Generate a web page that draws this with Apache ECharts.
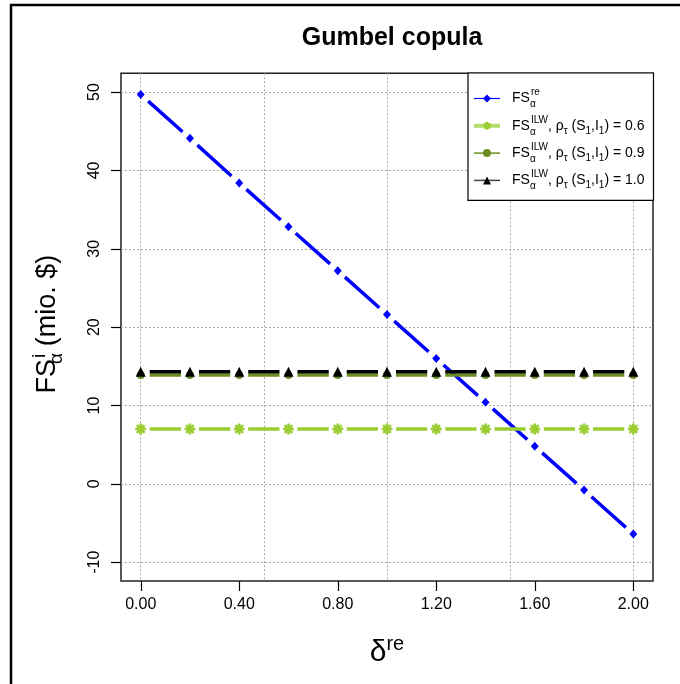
<!DOCTYPE html>
<html><head><meta charset="utf-8">
<script src="https://cdn.jsdelivr.net/npm/echarts@6/dist/echarts.min.js"></script>
<style>html,body{margin:0;padding:0;background:#fff}#c{width:680px;height:684px}</style>
</head><body><div id="c"></div>
<script>
// ---- data ----
const deltaRe = [0, 0.2, 0.4, 0.6, 0.8, 1.0, 1.2, 1.4, 1.6, 1.8, 2.0];
const fsRe    = [49.7, 44.1, 38.4, 32.8, 27.2, 21.6, 16.0, 10.4, 4.8, -0.8, -6.4];
const fsIlw06 = [7.0, 7.0, 7.0, 7.0, 7.0, 7.0, 7.0, 7.0, 7.0, 7.0, 7.0];
const fsIlw09 = [13.9, 13.9, 13.9, 13.9, 13.9, 13.9, 13.9, 13.9, 13.9, 13.9, 13.9];
const fsIlw10 = [14.3, 14.3, 14.3, 14.3, 14.3, 14.3, 14.3, 14.3, 14.3, 14.3, 14.3];
const xTickValues = [0, 0.4, 0.8, 1.2, 1.6, 2.0];
const xGridValues = [0, 0.5, 1.0, 1.5, 2.0];
const yTickValues = [-10, 0, 10, 20, 30, 40, 50];
const seriesNames = ['FSre', 'ILW06', 'ILW09', 'ILW10'];
const legendLabels = {
  FSre:  '{t|FS}{sbs|α}{sup|re}',
  ILW06: '{t|FS}{sbs|α}{sup|ILW}{t|, ρ}{sb|τ}{t| (S}{sb|1}{t|,I}{sb|1}{t|) = 0.6}',
  ILW09: '{t|FS}{sbs|α}{sup|ILW}{t|, ρ}{sb|τ}{t| (S}{sb|1}{t|,I}{sb|1}{t|) = 0.9}',
  ILW10: '{t|FS}{sbs|α}{sup|ILW}{t|, ρ}{sb|τ}{t| (S}{sb|1}{t|,I}{sb|1}{t|) = 1.0}'
};

// ---- layout ----
const FONT = "'Liberation Sans', Arial, Helvetica, sans-serif";
const W = 680, H = 684;
const G = {left: 121, right: 27, top: 73.3, bottom: 103};
const xMin = -0.08, xMax = 2.08, yMin = -12.4, yMax = 52.4;
const pxX = (W - G.left - G.right) / (xMax - xMin);
const pxY = (H - G.top - G.bottom) / (yMax - yMin);
function gapDash(ys, gap) {
  let tot = 0;
  for (let i = 0; i < deltaRe.length - 1; i++) {
    tot += Math.hypot((deltaRe[i + 1] - deltaRe[i]) * pxX, (ys[i + 1] - ys[i]) * pxY);
  }
  const L = tot / (deltaRe.length - 1);
  return {type: [L - 2 * gap, 2 * gap], dashOffset: L - gap};
}
const pair = ys => deltaRe.map((x, i) => [x, ys[i]]);
const asterisk = 'path://M0,5L10,5M5,0L5,10M1.5,1.5L8.5,8.5M8.5,1.5L1.5,8.5';

const chart = echarts.init(document.getElementById('c'), null, {renderer: 'canvas'});
const dRe = gapDash(fsRe, 10), dH = gapDash(fsIlw06, 9);
const gridLine = {show: true, lineStyle: {color: '#a8a8a8', width: 1, type: [2, 2]}};
const baseGraphic = [
  {type: 'rect', shape: {x: 11, y: 5, width: 800, height: 800}, style: {fill: 'none', stroke: '#000', lineWidth: 2.5}, silent: true},
  {type: 'text', x: 392, y: 38, style: {text: 'Gumbel copula', font: 'bold 25px ' + FONT, fill: '#000', align: 'center', verticalAlign: 'middle'}}
];
chart.setOption({
  animation: false,
  backgroundColor: '#fff',
  textStyle: {fontFamily: FONT},
  grid: {left: G.left, right: G.right, top: G.top, bottom: G.bottom, show: true, borderColor: '#222', borderWidth: 1.5, backgroundColor: 'transparent'},
  graphic: baseGraphic,
  xAxis: [{
    type: 'value', min: xMin, max: xMax, position: 'bottom',
    axisLine: {show: false, onZero: false},
    axisTick: {show: false, customValues: xTickValues},
    axisLabel: {customValues: xTickValues, formatter: v => v.toFixed(2), fontSize: 16, color: '#000', margin: 16, fontFamily: FONT},
    splitLine: {show: false},
    name: '{d|δ}{s|re}', nameLocation: 'middle', nameGap: 55,
    nameTextStyle: {rich: {d: {fontSize: 30, color: '#000', fontFamily: FONT, lineHeight: 34}, s: {fontSize: 20, color: '#000', fontFamily: FONT, lineHeight: 21, padding: [0, 0, 17, 0]}}}
  }, {
    type: 'value', min: xMin, max: xMax, position: 'top',
    axisLine: {show: false, onZero: false},
    axisTick: {show: false, customValues: xGridValues},
    axisLabel: {show: false, customValues: xGridValues},
    splitLine: gridLine
  }],
  yAxis: {
    type: 'value', min: yMin, max: yMax,
    axisLine: {show: false, onZero: false},
    axisTick: {show: true, customValues: yTickValues, length: 10, lineStyle: {color: '#000', width: 1.2}},
    axisLabel: {customValues: yTickValues, rotate: 90, fontSize: 16, color: '#000', margin: 18, fontFamily: FONT},
    splitLine: gridLine,
    name: '{t|FS}{sbs|α}{sup|i}{t| (mio. $)}', nameLocation: 'middle', nameRotate: 90, nameGap: 56,
    nameTextStyle: {padding: [0, 0, 0, 6], rich: {
      t: {fontSize: 27, color: '#000', fontFamily: FONT, lineHeight: 34},
      sup: {fontSize: 19, color: '#000', fontFamily: FONT, lineHeight: 20, padding: [0, 0, 17, 0]},
      sbs: {fontSize: 19, color: '#000', fontFamily: FONT, lineHeight: 20, padding: [17, 0, 0, 0], width: 1}
    }}
  },
  legend: {
    orient: 'vertical', left: 468, top: 73,
    padding: [14.5, 9, 9, 4], itemGap: 5.3, itemWidth: 26, itemHeight: 10,
    borderColor: '#000', borderWidth: 1.2, backgroundColor: '#fff',
    formatter: n => legendLabels[n],
    textStyle: {padding: [0, 0, 0, 7], rich: {
      t: {fontSize: 14, color: '#000', fontFamily: FONT, lineHeight: 22},
      sup: {fontSize: 10, color: '#000', fontFamily: FONT, lineHeight: 11, padding: [0, 0, 12, 0]},
      sbs: {fontSize: 10, color: '#000', fontFamily: FONT, lineHeight: 11, padding: [12, 0, 0, 0], width: 1},
      sb: {fontSize: 10, color: '#000', fontFamily: FONT, lineHeight: 11, padding: [10, 0, 0, 0]}
    }},
    data: [
      {name: 'FSre', lineStyle: {type: 'solid', width: 1.2, color: '#0000ff'}},
      {name: 'ILW06', lineStyle: {type: 'solid', width: 4, color: '#b4dc6e'}},
      {name: 'ILW09', lineStyle: {type: 'solid', width: 1.5, color: '#6B8E23'}},
      {name: 'ILW10', lineStyle: {type: 'solid', width: 1.5, color: '#444'}}
    ]
  },
  series: [
    {name: 'FSre', type: 'line', data: pair(fsRe), color: '#0000ff', symbol: 'diamond', symbolSize: [8, 9],
     lineStyle: {width: 3.5, color: '#0000ff', type: dRe.type, dashOffset: dRe.dashOffset, cap: 'butt'},
     itemStyle: {color: '#0000ff', borderWidth: 0}, z: 2},
    {name: 'ILW06', type: 'line', data: pair(fsIlw06), color: '#9ACD32', symbol: asterisk, symbolSize: 11,
     lineStyle: {width: 3.5, color: '#9ACD32', type: dH.type, dashOffset: dH.dashOffset, cap: 'butt'},
     itemStyle: {color: '#9ACD32', borderColor: '#9ACD32', borderWidth: 2.6}, z: 3},
    {name: 'ILW09', type: 'line', data: pair(fsIlw09), color: '#6B8E23', symbol: 'circle', symbolSize: 8,
     lineStyle: {width: 3.5, color: '#6B8E23', type: dH.type, dashOffset: dH.dashOffset, cap: 'butt'},
     itemStyle: {color: '#6B8E23', borderWidth: 0}, z: 4},
    {name: 'ILW10', type: 'line', data: pair(fsIlw10), color: '#000', symbol: 'triangle', symbolSize: 10,
     lineStyle: {width: 3.5, color: '#000', type: dH.type, dashOffset: dH.dashOffset, cap: 'butt'},
     itemStyle: {color: '#000', borderWidth: 0}, z: 5}
  ]
});
// x-axis ticks (outward), positioned through the library's own x scale
try {
  const yBottom = chart.convertToPixel({yAxisIndex: 0}, yMin);
  const tickEls = xTickValues.map(v => {
    const px = Math.round(chart.convertToPixel({xAxisIndex: 0}, v)) + 0.5;
    return {type: 'line', silent: true, z: 10,
            shape: {x1: px, y1: yBottom, x2: px, y2: yBottom + 10},
            style: {stroke: '#000', lineWidth: 1.2}};
  });
  chart.setOption({graphic: baseGraphic.concat(tickEls)});
} catch (e) { /* ticks are optional */ }
</script></body></html>
